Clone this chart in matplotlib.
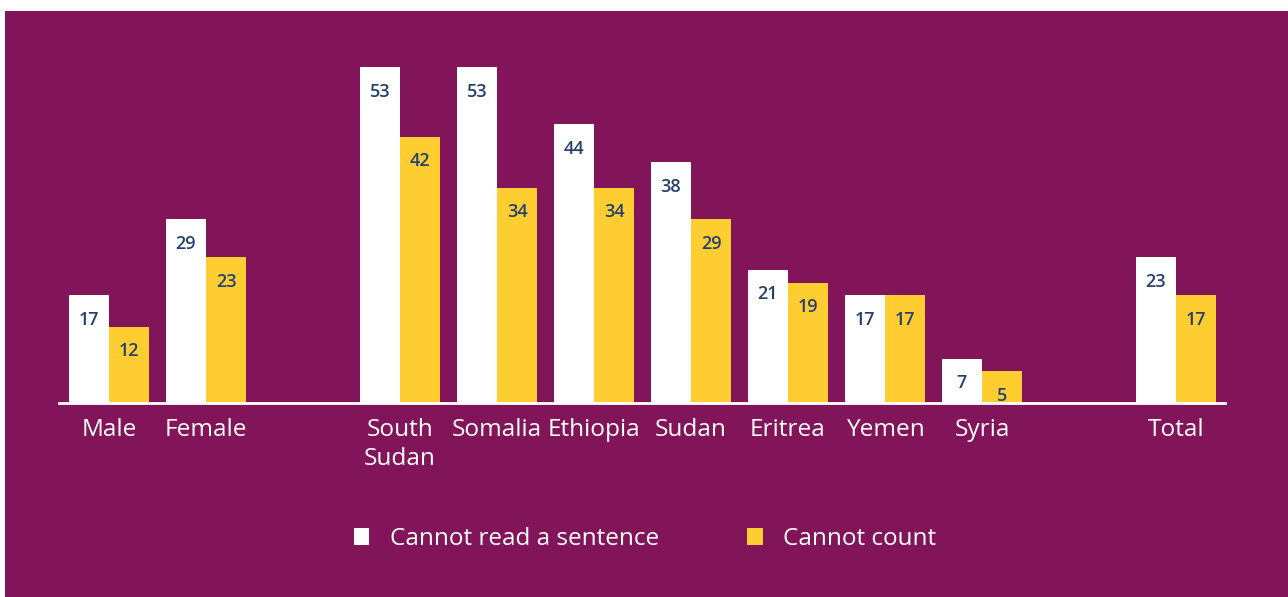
import matplotlib.pyplot as plt
from matplotlib.patches import Rectangle
import numpy as np

categories = ["Male", "Female", "South\nSudan", "Somalia", "Ethiopia", "Sudan",
              "Eritrea", "Yemen", "Syria", "Total"]
cannot_read = [17, 29, 53, 53, 44, 38, 21, 17, 7, 23]
cannot_count = [12, 23, 42, 34, 34, 29, 19, 17, 5, 17]
series_names = ["Cannot read a sentence", "Cannot count"]

# gaps between the sex / country / total groups
xpos = np.array([0, 1, 3, 4, 5, 6, 7, 8, 9, 11])

purple = "#82145a"
yellow = "#fdcd32"
label_blue = "#25406f"

plt.rcParams['font.family'] = ['Open Sans', 'DejaVu Sans']

fig = plt.figure(figsize=(12.88, 5.97), dpi=100, facecolor="white")
fig.patches.append(Rectangle((5 / 1288, 0), 1 - 5 / 1288, 1 - 11 / 597,
                             transform=fig.transFigure, facecolor=purple,
                             edgecolor="none", zorder=-10))

ax = fig.add_axes([59 / 1288, (597 - 403) / 597, (1225 - 59) / 1288, 380 / 597])
ax.set_facecolor("none")

w = 0.415
b1 = ax.bar(xpos - w / 2, cannot_read, width=w, color="white", label=series_names[0])
b2 = ax.bar(xpos + w / 2, cannot_count, width=w, color=yellow, label=series_names[1])

for bars, vals in ((b1, cannot_read), (b2, cannot_count)):
    for rect, v in zip(bars, vals):
        ax.annotate(str(v), (rect.get_x() + rect.get_width() / 2, v),
                    xytext=(0, -17.5), textcoords="offset points",
                    ha="center", va="center", fontsize=13, color=label_blue,
                    fontweight="semibold")

ax.set_xlim(-0.515, 11.505)
ax.set_ylim(0, 60)
ax.set_xticks(xpos)
ax.set_xticklabels(categories, fontsize=17.6, color="white", linespacing=1.28)
ax.tick_params(axis="x", length=0, pad=10.5)
ax.set_yticks([])
for s in ["top", "right", "left"]:
    ax.spines[s].set_visible(False)
ax.spines["bottom"].set_color("white")
ax.spines["bottom"].set_linewidth(2)

leg = fig.legend(loc="center", bbox_to_anchor=(645 / 1288, 1 - 539 / 597), ncol=2,
                 frameon=False, fontsize=17.5, handlelength=0.65, handleheight=0.65,
                 handletextpad=0.85, columnspacing=3.6)
for t in leg.get_texts():
    t.set_color("white")

fig.savefig("out.png", dpi=100, facecolor=fig.get_facecolor())
